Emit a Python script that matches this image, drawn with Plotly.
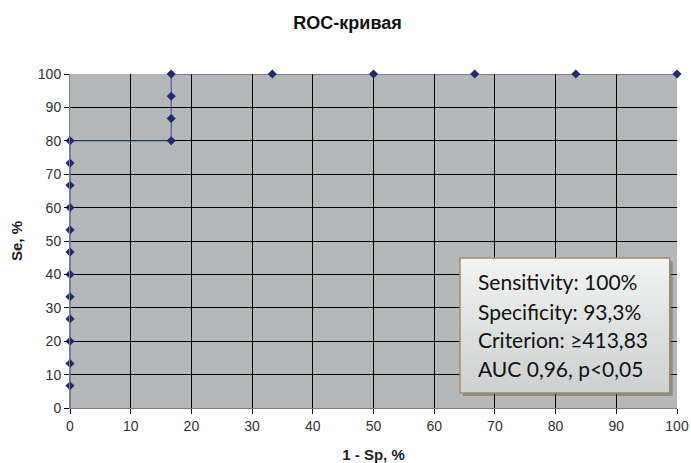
import plotly.graph_objects as go

# Data: 1 - Specificity (%) and Sensitivity (%)
fpr = [0, 0, 0, 0, 0, 0, 0, 0, 0, 0, 0, 0, 0,
       16.67, 16.67, 16.67, 16.67,
       33.33, 50, 66.67, 83.33, 100]
tpr = [0, 6.67, 13.33, 20, 26.67, 33.33, 40, 46.67, 53.33, 60, 66.67, 73.33, 80,
       80, 86.67, 93.33, 100,
       100, 100, 100, 100, 100]
stats_lines = ["Sensitivity: 100%", "Specificity: 93,3%",
               "Criterion: \u2265413,83", "AUC 0,96, p<0,05"]
tick_vals = list(range(0, 101, 10))

# origin point is drawn as line only (no marker)
marker_sizes = [0 if (a == 0 and b == 0) else 7 for a, b in zip(fpr, tpr)]

fig = go.Figure()
fig.add_trace(go.Scatter(
    x=fpr, y=tpr, mode="lines+markers",
    line=dict(color="#3B4A8C", width=1),
    marker=dict(symbol="diamond", size=marker_sizes, color="#1E2B6E",
                opacity=1, line=dict(width=0)),
    showlegend=False, cliponaxis=False,
))

axis_common = dict(
    range=[0, 100], tickvals=tick_vals, showgrid=True, gridcolor="#000000",
    gridwidth=1, zeroline=False, showline=True, linecolor="#7F7F7F",
    ticks="outside", ticklen=5, tickcolor="#000000", automargin=False,
    tickfont=dict(family="Liberation Sans, Arial", size=14, color="#333333"),
)
fig.update_xaxes(**axis_common,
                 title=dict(text="<b>1 - Sp, %</b>", standoff=16,
                            font=dict(family="Liberation Sans, Arial", size=15, color="#222222")))
fig.update_yaxes(**axis_common,
                 title=dict(text="<b>Se, %</b>", standoff=11,
                            font=dict(family="Liberation Sans, Arial", size=15, color="#222222")))

# stats box geometry (paper coords) and vertical gradient fill
bx0, bx1, by0, by1 = 0.6425, 0.988, 0.045, 0.449
fig.add_shape(type="rect", xref="paper", yref="paper",
              x0=bx0 + 0.005, x1=bx1 + 0.005, y0=by0 - 0.009, y1=by1 - 0.009,
              fillcolor="rgba(90,90,90,0.45)", line=dict(width=0), layer="above")
nb = 20
top_c, bot_c = (242, 243, 243), (206, 209, 209)
for i in range(nb):
    f = i / (nb - 1)
    c = tuple(round(top_c[k] + (bot_c[k] - top_c[k]) * f) for k in range(3))
    ya = by1 - (by1 - by0) * i / nb
    yb = by1 - (by1 - by0) * (i + 1) / nb
    if i > 0:
        ya += 0.004
    fig.add_shape(type="rect", xref="paper", yref="paper",
                  x0=bx0, x1=bx1, y0=yb, y1=ya,
                  fillcolor="rgb(%d,%d,%d)" % c, line=dict(width=0), layer="above")
fig.add_shape(type="rect", xref="paper", yref="paper",
              x0=bx0, x1=bx1, y0=by0, y1=by1,
              fillcolor="rgba(0,0,0,0)", line=dict(color="#A08C6E", width=1.5), layer="above")
ys = [0.380, 0.290, 0.2036, 0.1168]
for t, yv in zip(stats_lines, ys):
    fig.add_annotation(xref="paper", yref="paper", x=0.669, y=yv, text=t,
                       showarrow=False, xanchor="left", yanchor="middle",
                       font=dict(family="Lato, Noto Sans", size=21, color="#111111"))

fig.update_layout(
    width=691, height=463,
    margin=dict(l=70, r=14, t=74, b=55),
    plot_bgcolor="#B5B8B8", paper_bgcolor="#FFFFFF",
    title=dict(text="<b>ROC-кривая</b>", x=0.503, xanchor="center", y=0.95,
               yanchor="middle",
               font=dict(family="Liberation Sans, Arial", size=18, color="#111111")),
)

fig.write_html("out.html")
